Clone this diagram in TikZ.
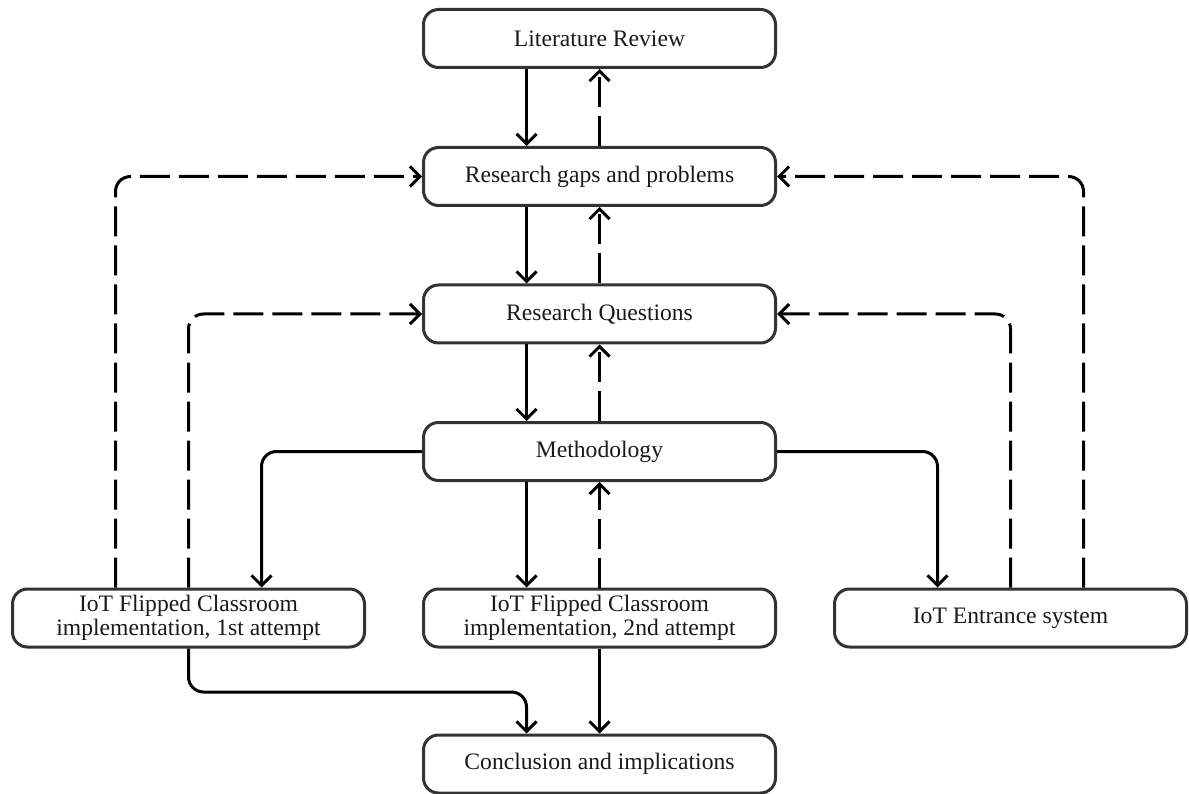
\documentclass[tikz,border=0pt]{standalone}
\usepackage{fontspec}
\setmainfont{Liberation Serif}
\usetikzlibrary{arrows.meta}
\begin{document}
\begin{tikzpicture}[x=1pt,y=-1pt,
  box/.style={draw=black!80, line width=3pt, rounded corners=15pt, minimum width=352pt, minimum height=58pt, inner sep=0pt, align=center, text=black!90, font=\fontsize{23.6}{23.5}\selectfont},
  conn/.style={line width=3pt, -{Straight Barb[length=10pt,width=20pt,line width=3pt]}, rounded corners=15pt},
  dsh/.style={conn, dash pattern=on 30pt off 9pt}]
\useasboundingbox (0,0) rectangle (1189,794);
\node[box] (lit) at (599.5,38.5) {Literature Review};
\node[box] (gaps) at (599.5,176.5) {Research gaps and problems};
\node[box] (rq) at (599.5,314) {Research Questions};
\node[box] (meth) at (599.5,451.5) {Methodology};
\node[box] (f1) at (188.5,618) {IoT Flipped Classroom\\implementation, 1st attempt};
\node[box] (f2) at (599.5,618) {IoT Flipped Classroom\\implementation, 2nd attempt};
\node[box] (ent) at (1010.5,618) {IoT Entrance system};
\node[box] (conc) at (599.5,764) {Conclusion and implications};
\coordinate (j) at (188.5,692);

\draw[conn] ([xshift=-73pt]lit.south) -- ([xshift=-73pt]gaps.north);
\draw[dsh] (gaps.north) -- (lit.south);
\draw[conn] ([xshift=-73pt]gaps.south) -- ([xshift=-73pt]rq.north);
\draw[dsh] (rq.north) -- (gaps.south);
\draw[conn] ([xshift=-73pt]rq.south) -- ([xshift=-73pt]meth.north);
\draw[dsh] (meth.north) -- (rq.south);
\draw[conn] ([xshift=-73pt]meth.south) -- ([xshift=-73pt]f2.north);
\draw[dsh] (f2.north) -- (meth.south);

\draw[dsh] ([xshift=-73pt]f1.north) |- (gaps.west);
\draw[dsh] (f1.north) |- (rq.west);
\draw[dsh] ([xshift=73pt]ent.north) |- (gaps.east);
\draw[dsh] (ent.north) |- (rq.east);

\draw[conn] (meth.west) -| ([xshift=73pt]f1.north);
\draw[conn] (meth.east) -| ([xshift=-73pt]ent.north);

\draw[conn] (f1.south) -- (j) -| ([xshift=-73pt]conc.north);
\draw[conn] (f2.south) -- (conc.north);
\end{tikzpicture}
\end{document}
